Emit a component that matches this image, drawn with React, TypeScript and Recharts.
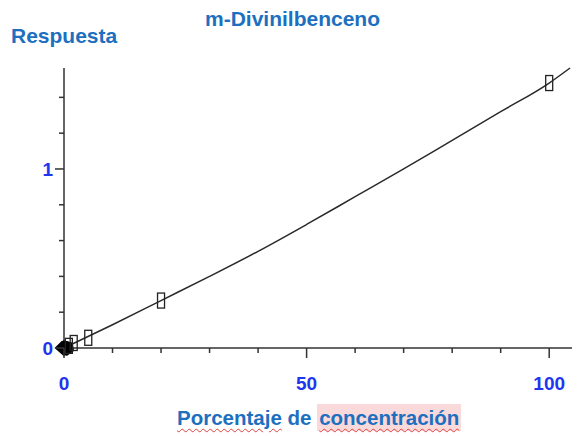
import { ComposedChart, Line, Scatter, XAxis, YAxis } from "recharts";

// calibration standards (percent, response)
const stdPct = [1, 2, 5, 20, 100];
const stdResp = [0.012, 0.028, 0.057, 0.265, 1.48];
// blank / origin replicates
const blankPct = [0, 0.3, 0.6];
const blankResp = [0, 0.004, 0.002];
// fitted curve
const fitPct = [0, 10, 20, 30, 40, 50, 60, 70, 80, 90, 100, 104.3];
const fitResp = [0, 0.13, 0.265, 0.4, 0.54, 0.69, 0.845, 1.0, 1.16, 1.32, 1.48, 1.564];

const xTicks = [0, 10, 20, 30, 40, 50, 60, 70, 80, 90, 100];
const xLabels = [0, 50, 100];
const yTicks = [0, 0.2, 0.4, 0.6, 0.8, 1, 1.2, 1.4];
const yLabels = [0, 1];

const stdData = stdPct.map((x, i) => ({ x, y: stdResp[i] }));
const blankData = blankPct.map((x, i) => ({ x, y: blankResp[i] }));
const fitData = fitPct.map((x, i) => ({ x, y: fitResp[i] }));

const TICK_BLUE = "#1f35f0";
const TITLE_BLUE = "#1d6fbf";
const INK = "#333";

const XTick = (props: any) => {
  const { x, y, payload } = props;
  const major = xLabels.includes(payload.value);
  return (
    <g>
      <line x1={x} y1={y} x2={x} y2={y + (major ? 10 : 5)} stroke={INK} strokeWidth={1.5} />
      {major && (
        <text x={x} y={y + 42} textAnchor="middle" fill={TICK_BLUE} fontSize={19} fontWeight="bold"
          fontFamily="Liberation Sans, Arial, sans-serif">
          {payload.value}
        </text>
      )}
    </g>
  );
};

const YTick = (props: any) => {
  const { x, y, payload } = props;
  const major = yLabels.includes(payload.value);
  return (
    <g>
      <line x1={x} y1={y} x2={x - (major ? 9 : 5)} y2={y} stroke={INK} strokeWidth={1.5} />
      {major && (
        <text x={x - 11} y={y + 7} textAnchor="end" fill={TICK_BLUE} fontSize={19} fontWeight="bold"
          fontFamily="Liberation Sans, Arial, sans-serif">
          {payload.value}
        </text>
      )}
    </g>
  );
};

const Box = (props: any) => {
  const { cx, cy } = props;
  return <rect x={cx - 3.5} y={cy - 7.5} width={7} height={15} fill="none" stroke="#222" strokeWidth={1.3} />;
};

const Blob = (props: any) => {
  const { cx, cy } = props;
  return (
    <polygon
      points={`${cx - 8},${cy} ${cx - 2},${cy - 6} ${cx + 5},${cy - 4} ${cx + 6},${cy + 3} ${cx},${cy + 7}`}
      fill="#000"
      stroke="#000"
      strokeWidth={2}
    />
  );
};

export default function App() {
  return (
    <div style={{ position: "absolute", left: 0, top: 0, width: 577, height: 436, background: "#fff",
      fontFamily: "Liberation Sans, Arial, sans-serif" }}>
      <ComposedChart width={577} height={436} margin={{ top: 68, right: 5, bottom: 48, left: 20 }}>
        <XAxis dataKey="x" type="number" domain={[0, 104.7]} ticks={xTicks}
          tickSize={0} tickMargin={0} tickLine={false} height={40}
          axisLine={{ stroke: INK, strokeWidth: 1.5 }} tick={<XTick />} interval={0} />
        <YAxis dataKey="y" type="number" domain={[0, 1.564]} ticks={yTicks}
          tickSize={0} tickMargin={0} tickLine={false} width={44}
          axisLine={{ stroke: INK, strokeWidth: 1.5 }} tick={<YTick />} interval={0} />
        <Line data={fitData} dataKey="y" type="monotone" stroke="#2a2a2a" strokeWidth={1.5}
          dot={false} isAnimationActive={false} />
        <Scatter data={blankData} shape={<Blob />} isAnimationActive={false} />
        <Scatter data={stdData} shape={<Box />} isAnimationActive={false} />
      </ComposedChart>
      <div style={{ position: "absolute", left: 205, top: 7, color: TITLE_BLUE, fontWeight: "bold", fontSize: 21 }}>
        m-Divinilbenceno
      </div>
      <div style={{ position: "absolute", left: 11, top: 24, color: TITLE_BLUE, fontWeight: "bold", fontSize: 21 }}>
        Respuesta
      </div>
      <div style={{ position: "absolute", left: 177, top: 406, color: TITLE_BLUE, fontWeight: "bold", fontSize: 20.5,
        whiteSpace: "nowrap" }}>
        <span style={{ textDecoration: "underline wavy #e04040", textDecorationThickness: 1, textUnderlineOffset: 3 }}>
          Porcentaje
        </span>{" "}
        de{" "}
        <span style={{ background: "#f9d9d9", padding: "2px 2px", textDecoration: "underline wavy #e04040",
          textDecorationThickness: 1, textUnderlineOffset: 3 }}>
          concentración
        </span>
      </div>
    </div>
  );
}
